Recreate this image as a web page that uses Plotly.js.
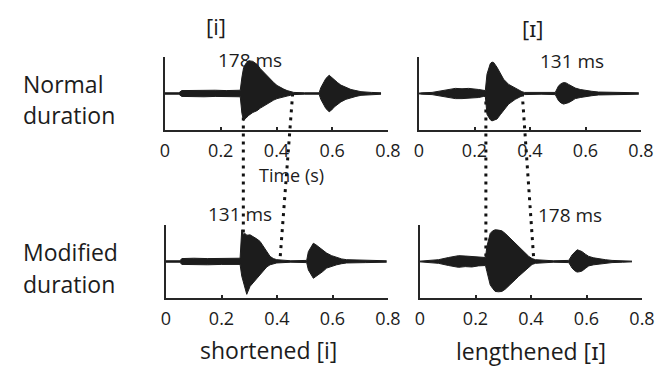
<!DOCTYPE html>
<html>
<head>
<meta charset="utf-8">
<script src="https://cdn.plot.ly/plotly-3.0.1.min.js"></script>
<style>html,body{margin:0;padding:0;background:#fff;}#chart{width:670px;height:367px;}</style>
</head>
<body>
<div id="chart"></div>
<script>
// ---- Data (time in s, envelope amplitude, relative units) ----
// Panel A: normal duration [i]
const tNormI = [0.00,0.05,0.06,0.10,0.14,0.18,0.22,0.26,0.270,0.276,0.282,0.290,0.300,0.315,0.330,0.342,0.354,0.366,0.378,0.390,0.402,0.414,0.426,0.438,0.450,0.462,0.50,0.553,0.559,0.568,0.577,0.589,0.598,0.607,0.619,0.631,0.649,0.667,0.685,0.703,0.74,0.775];
const upNormI  = [0.02,0.02,0.08,0.09,0.08,0.09,0.08,0.09,0.09,0.45,0.71,0.82,0.90,0.88,0.80,0.68,0.58,0.49,0.40,0.30,0.22,0.16,0.12,0.08,0.05,0.03,0.02,0.02,0.16,0.30,0.41,0.50,0.44,0.36,0.30,0.23,0.16,0.11,0.08,0.05,0.03,0.02];
const loNormI  = [0.02,0.02,0.08,0.09,0.09,0.08,0.09,0.08,0.09,0.55,0.74,0.68,0.60,0.52,0.47,0.40,0.34,0.28,0.23,0.18,0.14,0.11,0.09,0.07,0.05,0.03,0.02,0.02,0.16,0.30,0.41,0.50,0.45,0.37,0.30,0.23,0.16,0.11,0.08,0.05,0.03,0.02];

// Panel B: normal duration [ɪ]
const tNormIh = [0.00,0.011,0.047,0.07,0.095,0.131,0.155,0.179,0.215,0.233,0.239,0.245,0.251,0.257,0.263,0.269,0.281,0.293,0.305,0.323,0.347,0.371,0.38,0.44,0.491,0.503,0.512,0.521,0.530,0.539,0.551,0.563,0.581,0.599,0.623,0.647,0.70,0.792];
const upNormIh  = [0.01,0.02,0.03,0.06,0.11,0.14,0.13,0.14,0.11,0.08,0.08,0.53,0.70,0.82,0.86,0.85,0.72,0.55,0.39,0.25,0.14,0.05,0.03,0.02,0.03,0.21,0.27,0.30,0.29,0.25,0.20,0.15,0.11,0.08,0.06,0.04,0.03,0.02];
const loNormIh  = [0.01,0.02,0.03,0.06,0.11,0.14,0.14,0.13,0.11,0.08,0.08,0.57,0.66,0.72,0.75,0.74,0.70,0.58,0.45,0.29,0.16,0.08,0.03,0.02,0.03,0.20,0.26,0.29,0.28,0.25,0.20,0.14,0.11,0.08,0.06,0.04,0.03,0.02];

// Panel C: shortened [i]
const tShortI = [0.00,0.05,0.057,0.10,0.15,0.20,0.25,0.267,0.273,0.279,0.285,0.291,0.303,0.315,0.327,0.339,0.351,0.363,0.375,0.387,0.399,0.45,0.507,0.513,0.522,0.531,0.540,0.549,0.564,0.579,0.597,0.615,0.633,0.651,0.72,0.795];
const upShortI  = [0.02,0.02,0.08,0.09,0.08,0.09,0.08,0.09,0.87,0.74,0.77,0.72,0.73,0.68,0.62,0.55,0.42,0.28,0.14,0.08,0.05,0.02,0.03,0.27,0.40,0.50,0.46,0.41,0.32,0.23,0.16,0.11,0.07,0.05,0.03,0.02];
const loShortI  = [0.02,0.02,0.08,0.09,0.09,0.08,0.09,0.08,0.40,0.55,0.75,0.90,0.68,0.57,0.46,0.35,0.23,0.15,0.09,0.06,0.04,0.02,0.03,0.23,0.36,0.46,0.41,0.37,0.28,0.18,0.13,0.09,0.06,0.04,0.03,0.02];

// Panel D: lengthened [ɪ]
const tLongIh = [0.00,0.019,0.067,0.103,0.139,0.163,0.187,0.210,0.229,0.236,0.241,0.253,0.262,0.271,0.283,0.295,0.307,0.319,0.331,0.343,0.355,0.368,0.380,0.392,0.404,0.416,0.48,0.536,0.548,0.557,0.566,0.575,0.584,0.596,0.608,0.626,0.644,0.668,0.692,0.73,0.764];
const upLongIh  = [0.01,0.02,0.05,0.11,0.16,0.15,0.14,0.12,0.11,0.11,0.41,0.77,0.84,0.87,0.86,0.84,0.77,0.68,0.59,0.50,0.41,0.32,0.23,0.14,0.08,0.05,0.02,0.03,0.18,0.26,0.32,0.30,0.27,0.20,0.14,0.10,0.07,0.05,0.03,0.02,0.01];
const loLongIh  = [0.01,0.02,0.05,0.11,0.16,0.14,0.15,0.12,0.11,0.11,0.27,0.64,0.74,0.82,0.83,0.82,0.76,0.68,0.59,0.50,0.41,0.32,0.23,0.14,0.08,0.05,0.02,0.03,0.18,0.25,0.29,0.28,0.26,0.19,0.12,0.09,0.07,0.05,0.03,0.02,0.01];

// Vowel boundaries (s)
const boundsNormI   = [0.281, 0.458];
const boundsShortI  = [0.281, 0.412];
const boundsNormIh  = [0.241, 0.372];
const boundsLongIh  = [0.241, 0.414];

const durationLabels = ['178 ms', '131 ms', '131 ms', '178 ms'];
const vowelTitles = ['[i]', '[ɪ]'];
const rowLabels = [['Normal', 'duration'], ['Modified', 'duration']];
const bottomLabels = ['shortened [i]', 'lengthened [ɪ]'];
const tickVals = [0, 0.2, 0.4, 0.6, 0.8];
const tickText = ['0', '0.2', '0.4', '0.6', '0.8'];

// ---- Layout helpers ----
const W = 670, H = 367;
const px = x => x / W;
const py = y => 1 - y / H;
const FONT = 'Open Sans, Noto Sans, sans-serif';
const INK = '#1c1c1c';

const panels = [
  {t: tNormI,  up: upNormI,  lo: loNormI,  xa: 'x',  ya: 'y'},
  {t: tNormIh, up: upNormIh, lo: loNormIh, xa: 'x2', ya: 'y2'},
  {t: tShortI, up: upShortI, lo: loShortI, xa: 'x3', ya: 'y3'},
  {t: tLongIh, up: upLongIh, lo: loLongIh, xa: 'x4', ya: 'y4'}
];

const traces = [];
panels.forEach(p => {
  traces.push({x: p.t, y: p.up, xaxis: p.xa, yaxis: p.ya, type: 'scatter', mode: 'lines',
    line: {color: INK, width: 1}, hoverinfo: 'skip', showlegend: false});
  traces.push({x: p.t, y: p.lo.map(v => -v), xaxis: p.xa, yaxis: p.ya, type: 'scatter', mode: 'lines',
    line: {color: INK, width: 1}, fill: 'tonexty', fillcolor: INK, hoverinfo: 'skip', showlegend: false});
});

const xBase = {
  range: [0, 0.8], tickvals: tickVals, ticktext: tickText,
  showline: true, linecolor: '#262626', linewidth: 2,
  ticks: 'inside', ticklen: 3, tickwidth: 2, tickcolor: '#262626',
  showgrid: false, zeroline: false, fixedrange: true,
  tickfont: {family: FONT, size: 18, color: INK}, ticklabelstandoff: 3
};
const yBase = {
  range: [-1, 1], showline: true, linecolor: '#262626', linewidth: 2,
  showticklabels: false, ticks: '', showgrid: false, zeroline: false, fixedrange: true
};

const yTopDom = [py(130), py(57)];
const yBotDom = [py(298), py(225)];
const mid = d => (d[0] + d[1]) / 2;

const layout = {
  width: W, height: H,
  margin: {l: 0, r: 0, t: 0, b: 0},
  paper_bgcolor: '#ffffff', plot_bgcolor: 'rgba(0,0,0,0)',
  showlegend: false,
  xaxis:  Object.assign({}, xBase, {domain: [px(165), px(388)], anchor: 'y'}),
  xaxis2: Object.assign({}, xBase, {domain: [px(419), px(641)], anchor: 'y2'}),
  xaxis3: Object.assign({}, xBase, {domain: [px(166), px(388)], anchor: 'y3'}),
  xaxis4: Object.assign({}, xBase, {domain: [px(420), px(642)], anchor: 'y4'}),
  yaxis:  Object.assign({}, yBase, {domain: yTopDom, anchor: 'x'}),
  yaxis2: Object.assign({}, yBase, {domain: yTopDom, anchor: 'x2'}),
  yaxis3: Object.assign({}, yBase, {domain: yBotDom, anchor: 'x3'}),
  yaxis4: Object.assign({}, yBase, {domain: yBotDom, anchor: 'x4'}),
  shapes: [],
  annotations: []
};

// Dotted connectors between vowel boundaries (top row -> bottom row)
const dotLine = {color: '#111', width: 3, dash: '3px,5px'};
const connect = (xref, topB, botB) => {
  for (let i = 0; i < 2; i++) {
    layout.shapes.push({type: 'line', layer: 'below', xref: xref, yref: 'paper',
      x0: topB[i], x1: botB[i], y0: mid(yTopDom), y1: mid(yBotDom), line: dotLine});
  }
};
connect('x', boundsNormI, boundsShortI);
connect('x2', boundsNormIh, boundsLongIh);

const ann = (text, x, y, size, xanchor) => layout.annotations.push({
  text: text, xref: 'paper', yref: 'paper', x: px(x), y: py(y),
  xanchor: xanchor || 'center', yanchor: 'middle', showarrow: false,
  font: {family: FONT, size: size, color: INK}
});

ann(vowelTitles[0], 216, 26, 22);
ann(vowelTitles[1], 532, 28, 22);
ann(rowLabels[0][0], 21, 84, 23, 'left');
ann(rowLabels[0][1], 21, 115, 23, 'left');
ann(rowLabels[1][0], 21, 252, 23, 'left');
ann(rowLabels[1][1], 21, 284, 23, 'left');
ann(durationLabels[0], 250, 60, 19);
ann(durationLabels[1], 572, 61, 19);
ann(durationLabels[2], 240, 214, 19);
ann(durationLabels[3], 570, 215, 19);
ann('Time (s)', 291, 175, 18);
ann(bottomLabels[0], 268, 350, 23);
ann(bottomLabels[1], 531, 351, 23);

Plotly.newPlot('chart', traces, layout, {staticPlot: true, displayModeBar: false});
</script>
</body>
</html>
